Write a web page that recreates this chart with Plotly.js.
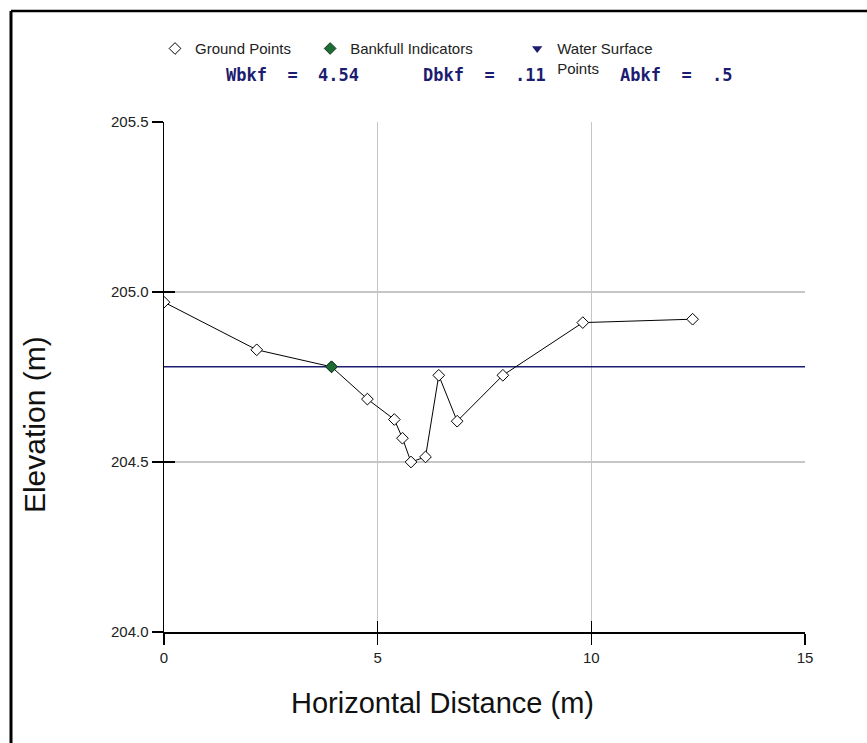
<!DOCTYPE html>
<html>
<head>
<meta charset="utf-8">
<script src="https://cdn.plot.ly/plotly-3.0.1.min.js"></script>
<style>html,body{margin:0;padding:0;background:#fff;}#chart{width:867px;height:743px;}</style>
</head>
<body>
<div id="chart"></div>
<script>
// Data
const groundX = [0, 2.17, 3.92, 4.76, 5.39, 5.58, 5.78, 6.12, 6.43, 6.86, 7.93, 9.80, 12.37];
const groundY = [204.97, 204.83, 204.78, 204.685, 204.625, 204.57, 204.50, 204.515, 204.755, 204.62, 204.755, 204.91, 204.92];
const bankX = [3.92];
const bankY = [204.78];
const waterX = [0, 15];
const waterY = [204.78, 204.78];
const statLabels = ["Wbkf  =  4.54", "Dbkf  =  .11", "Abkf  =  .5"];
const xTicks = [0, 5, 10, 15];
const yTicks = [204.0, 204.5, 205.0, 205.5];
const xTitle = "Horizontal Distance (m)";
const yTitle = "Elevation (m)";

const font = "Liberation Sans, Arial, sans-serif";
const navy = "#1c1c70";

const traces = [
  {x: waterX, y: waterY, mode: "lines", line: {color: navy, width: 1.5}, showlegend: false, hoverinfo: "skip"},
  {x: groundX, y: groundY, mode: "lines", line: {color: "#000", width: 1}, showlegend: false, hoverinfo: "skip"},
  {x: groundX, y: groundY, mode: "markers", name: "Ground Points", legend: "legend",
   marker: {symbol: "diamond", size: 9, color: "#fff", line: {color: "#000", width: 1}}},
  {x: bankX, y: bankY, mode: "markers", name: "Bankfull Indicators", legend: "legend2",
   marker: {symbol: "diamond", size: 9, color: "#1e6b35", line: {color: "#0d3a1a", width: 1}}},
  {x: [null], y: [null], mode: "markers", name: "Water Surface<br>Points", legend: "legend3",
   marker: {symbol: "triangle-down", size: 9, color: navy}}
];

const tickFont = {family: font, size: 15, color: "#222"};
const axBase = {
  showline: true, linecolor: "#000", linewidth: 1.5, zeroline: false,
  ticks: "outside", ticklen: 11, tickwidth: 1.5, tickcolor: "#000",
  gridcolor: "#c6c6c6", gridwidth: 1.5
};
const legBase = {orientation: "h", xanchor: "left", y: 1.176, yanchor: "top", valign: "top",
  font: {family: font, size: 15, color: "#222"}, bgcolor: "rgba(0,0,0,0)"};

const layout = {
  width: 867, height: 743,
  margin: {l: 164, r: 62, t: 122, b: 111},
  paper_bgcolor: "#fff", plot_bgcolor: "#fff",
  showlegend: true,
  legend: Object.assign({}, legBase, {x: -0.014}),
  legend2: Object.assign({}, legBase, {x: 0.228}),
  legend3: Object.assign({}, legBase, {x: 0.551}),
  xaxis: Object.assign({}, axBase, {range: [0, 15], tickvals: xTicks, ticktext: xTicks.map(String), tickfont: tickFont}),
  yaxis: Object.assign({}, axBase, {range: [204.0, 205.5], tickvals: yTicks, ticktext: yTicks.map(v => v.toFixed(1)), tickfont: tickFont}),
  xaxis2: {overlaying: "x", matches: "x", anchor: "y", side: "bottom", showgrid: false, zeroline: false,
    showticklabels: false, ticks: "inside", ticklen: 11, tickwidth: 1.5, tickcolor: "#000", tickvals: xTicks, showline: false},
  yaxis2: {overlaying: "y", matches: "y", anchor: "x", side: "left", showgrid: false, zeroline: false,
    showticklabels: false, ticks: "inside", ticklen: 11, tickwidth: 1.5, tickcolor: "#000", tickvals: yTicks, showline: false},
  annotations: statLabels.map((t, i) => ({
    text: t, xref: "paper", yref: "paper", x: [0.2, 0.5, 0.8][i], y: 1.092, xanchor: "center", yanchor: "middle", showarrow: false,
    font: {family: "DejaVu Sans Mono, monospace", size: 17, color: navy, weight: "bold"}
  })).concat([
    {text: xTitle, xref: "paper", yref: "paper", x: 0.434, y: -0.139, xanchor: "center", yanchor: "middle", showarrow: false,
     font: {family: font, size: 29, color: "#111"}},
    {text: yTitle, xref: "paper", yref: "paper", x: -0.201, y: 0.406, xanchor: "center", yanchor: "middle", textangle: -90, showarrow: false,
     font: {family: font, size: 30, color: "#111"}}
  ]),
  shapes: [
    {type: "line", xref: "paper", yref: "paper", x0: -0.2387, x1: 1.1, y0: 1.2176, y1: 1.2176, line: {color: "#000", width: 2.5}},
    {type: "line", xref: "paper", yref: "paper", x0: -0.2387, x1: -0.2387, y0: 1.2176, y1: -0.23, line: {color: "#000", width: 3}}
  ]
};
// dummy trace to activate overlay axes
traces.push({x: [null], y: [null], xaxis: "x2", yaxis: "y2", showlegend: false, hoverinfo: "skip"});

Plotly.newPlot("chart", traces, layout, {displayModeBar: false, staticPlot: true});
</script>
</body>
</html>
